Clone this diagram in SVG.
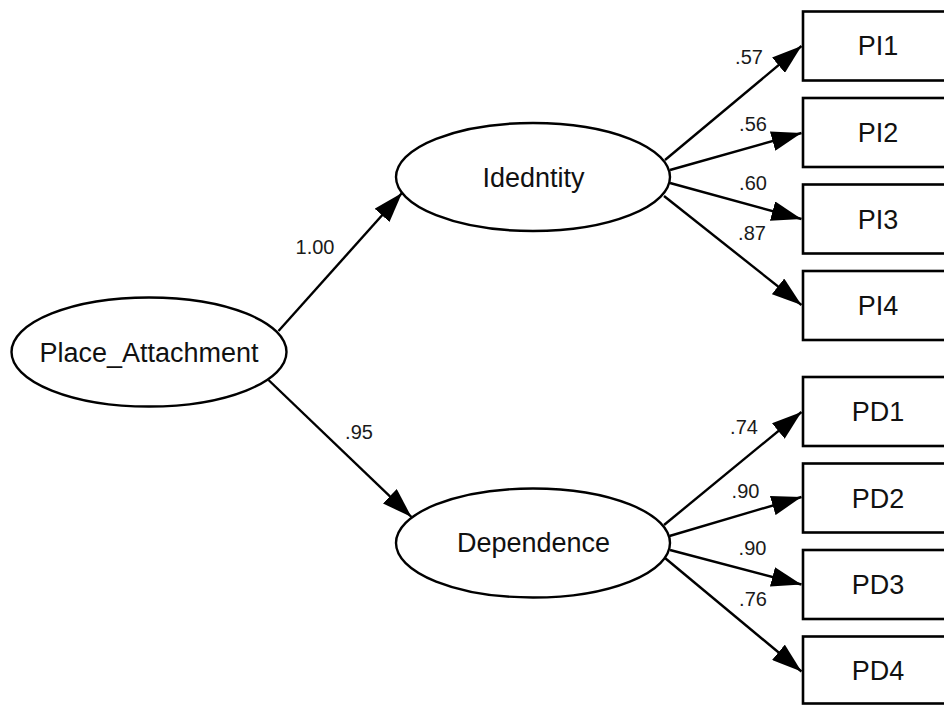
<svg xmlns="http://www.w3.org/2000/svg" width="944" height="705" viewBox="0 0 944 705">
  <defs>
    <marker id="arrow" markerUnits="userSpaceOnUse" markerWidth="30" markerHeight="20" refX="30" refY="10" orient="auto">
      <path d="M0,0 L30,10 L0,20 z" fill="#000"/>
    </marker>
    <style>
      .latent { fill: #fff; stroke: #000; stroke-width: 2.4; }
      .observed { fill: #fff; stroke: #000; stroke-width: 2.6; }
      .name { font-family: "Liberation Sans", Arial, sans-serif; font-size: 27px; fill: #111; text-anchor: middle; }
      .path { stroke: #000; stroke-width: 2.4; fill: none; marker-end: url(#arrow); }
      .coef { font-family: "Liberation Sans", Arial, sans-serif; font-size: 20px; fill: #1a1a1a; text-anchor: middle; }
    </style>
  </defs>
  <rect width="944" height="705" fill="#fff"/>

  <!-- structural and measurement paths -->
  <g id="connectors">
    <line class="path" x1="278.5" y1="331" x2="402" y2="193"/>
    <line class="path" x1="268.5" y1="380" x2="411.5" y2="517"/>
    <line class="path" x1="665" y1="160" x2="801.5" y2="46"/>
    <line class="path" x1="670" y1="170" x2="801.5" y2="133"/>
    <line class="path" x1="670" y1="183" x2="801.5" y2="219"/>
    <line class="path" x1="664" y1="196" x2="801.5" y2="305"/>
    <line class="path" x1="664" y1="525" x2="801.5" y2="412"/>
    <line class="path" x1="669.5" y1="536" x2="801.5" y2="497"/>
    <line class="path" x1="670" y1="550" x2="801.5" y2="584.5"/>
    <line class="path" x1="665" y1="558" x2="801.5" y2="671.5"/>
    <text class="coef" x="315" y="254">1.00</text>
    <text class="coef" x="359" y="439">.95</text>
    <text class="coef" x="749" y="64">.57</text>
    <text class="coef" x="753" y="131">.56</text>
    <text class="coef" x="753" y="190">.60</text>
    <text class="coef" x="752" y="240">.87</text>
    <text class="coef" x="744" y="434">.74</text>
    <text class="coef" x="745.5" y="498">.90</text>
    <text class="coef" x="752.5" y="555">.90</text>
    <text class="coef" x="753" y="606">.76</text>
  </g>

  <!-- latent variables -->
  <g id="place-attachment">
    <ellipse class="latent" cx="149" cy="352" rx="137.5" ry="54.5"/>
    <text class="name" x="149" y="361.5">Place_Attachment</text>
  </g>
  <g id="identity">
    <ellipse class="latent" cx="533" cy="177" rx="137" ry="54"/>
    <text class="name" x="533.5" y="186.5">Idedntity</text>
  </g>
  <g id="dependence">
    <ellipse class="latent" cx="533" cy="543" rx="137" ry="54.5"/>
    <text class="name" x="533.5" y="552">Dependence</text>
  </g>

  <!-- observed indicators -->
  <g id="PI1"><rect class="observed" x="803" y="11.5" width="150" height="69"/><text class="name" x="878" y="55">PI1</text></g>
  <g id="PI2"><rect class="observed" x="803" y="98" width="150" height="69"/><text class="name" x="878" y="142">PI2</text></g>
  <g id="PI3"><rect class="observed" x="803" y="184.5" width="150" height="69"/><text class="name" x="878" y="228.5">PI3</text></g>
  <g id="PI4"><rect class="observed" x="803" y="271" width="150" height="69"/><text class="name" x="878" y="315">PI4</text></g>
  <g id="PD1"><rect class="observed" x="803" y="377" width="150" height="69"/><text class="name" x="878" y="421">PD1</text></g>
  <g id="PD2"><rect class="observed" x="803" y="463.5" width="150" height="69"/><text class="name" x="878" y="507.5">PD2</text></g>
  <g id="PD3"><rect class="observed" x="803" y="550" width="150" height="69"/><text class="name" x="878" y="594">PD3</text></g>
  <g id="PD4"><rect class="observed" x="803" y="636.5" width="150" height="67"/><text class="name" x="878" y="680">PD4</text></g>
</svg>
